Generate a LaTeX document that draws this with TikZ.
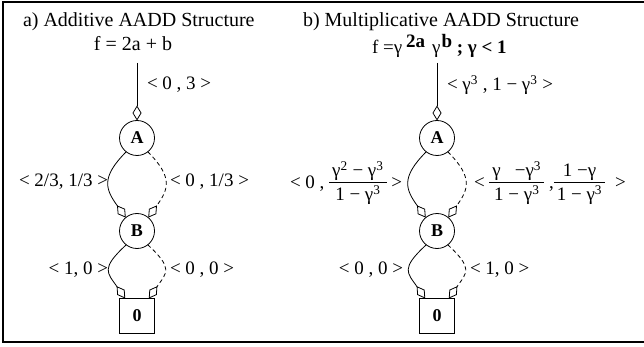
\documentclass[tikz,border=0pt]{standalone}
\usepackage{fontspec}
\setmainfont{Liberation Serif}
\usetikzlibrary{arrows.meta}
\newcommand{\myfr}[2]{$\vcenter{\hbox{\begin{tabular}{@{\hspace{3pt}}c@{\hspace{3pt}}}#1\\[-1pt]\hline\rule{0pt}{18pt}#2\end{tabular}}}$}
\begin{document}
\begin{tikzpicture}[x=1pt,y=-1pt,
  every node/.style={inner sep=0pt, outer sep=0pt},
  lbl/.style={font=\fontsize{19}{22}\selectfont},
  ttl/.style={font=\fontsize{20}{24}\selectfont},
  inode/.style={circle, draw, line width=0.8pt, minimum size=35pt, font=\fontsize{18}{20}\selectfont\bfseries},
  term/.style={rectangle, draw, line width=0.8pt, minimum size=35pt, font=\fontsize{18}{20}\selectfont\bfseries},
  hi/.style={line width=0.8pt, -{Diamond[open,length=15pt,width=9pt]}},
  lo/.style={hi, dash pattern=on 4pt off 3pt}]
\useasboundingbox (0,0) rectangle (644,347);
\draw[line width=2.5pt] (3,2) rectangle (670,342);
% titles
\node[ttl, anchor=base west] (ta) at (23,27) {a) Additive AADD Structure};
\node[ttl, anchor=base] (fa) at (133,51) {f = 2a + b};
\node[ttl, anchor=base west] (tb) at (303,27) {b) Multiplicative AADD Structure};
\node[anchor=base west, font=\fontsize{19}{22}\selectfont] (fb) at (372,54) {f =γ\hspace{4pt}\raisebox{6pt}{\bfseries 2a}\hspace{7pt}γ\hspace{1pt}\raisebox{6pt}{\bfseries b}\textbf{ ; γ < 1}};
% left diagram
\node[inode] (A1) at (137,138) {A};
\node[inode] (B1) at (137,231) {B};
\node[term] (Z1) at (137,316) {0};
\coordinate (s1) at (137,63);
\draw[hi] (s1) -- (A1);
\draw[hi] (A1.-128) .. controls +(-26,26) and +(-20,-28) .. (B1.130);
\draw[lo] (A1.-52) .. controls +(26,26) and +(20,-28) .. (B1.50);
\draw[hi] (B1.-128) .. controls +(-26,24) and +(-18,-26) .. (Z1.124);
\draw[lo] (B1.-52) .. controls +(26,24) and +(18,-26) .. (Z1.56);
\node[lbl, anchor=west] (l1) at (147,85) {< 0 , 3 >};
\node[lbl, anchor=east] (l2) at (108,182) {< 2/3, 1/3 >};
\node[lbl, anchor=west] (l3) at (170,182) {< 0 , 1/3 >};
\node[lbl, anchor=east] (l4) at (108,270) {< 1, 0 >};
\node[lbl, anchor=west] (l5) at (170,270) {< 0 , 0 >};
% right diagram
\node[inode] (A2) at (437,138) {A};
\node[inode] (B2) at (437,231) {B};
\node[term] (Z2) at (437,316) {0};
\coordinate (s2) at (437,63);
\draw[hi] (s2) -- (A2);
\draw[hi] (A2.-128) .. controls +(-26,26) and +(-20,-28) .. (B2.130);
\draw[lo] (A2.-52) .. controls +(26,26) and +(20,-28) .. (B2.50);
\draw[hi] (B2.-128) .. controls +(-26,24) and +(-18,-26) .. (Z2.124);
\draw[lo] (B2.-52) .. controls +(26,24) and +(18,-26) .. (Z2.56);
\node[lbl, anchor=west] (r1) at (447,85) {< γ\textsuperscript{3} , 1 − γ\textsuperscript{3} >};
\node[lbl, anchor=east] (r2) at (402,184) {< 0 , \myfr{γ\textsuperscript{2} − γ\textsuperscript{3}}{1 − γ\textsuperscript{3}} >};
\node[lbl, anchor=west] (r3) at (474,184) {< \myfr{γ\hspace{14pt}−γ\textsuperscript{3}}{1 − γ\textsuperscript{3}}\hspace{5pt},\myfr{1 −γ\hspace{14pt}}{1 − γ\textsuperscript{3}}\hspace{10pt}>};
\node[lbl, anchor=east] (r4) at (403,270) {< 0 , 0 >};
\node[lbl, anchor=west] (r5) at (470,270) {< 1, 0 >};
\end{tikzpicture}
\end{document}
